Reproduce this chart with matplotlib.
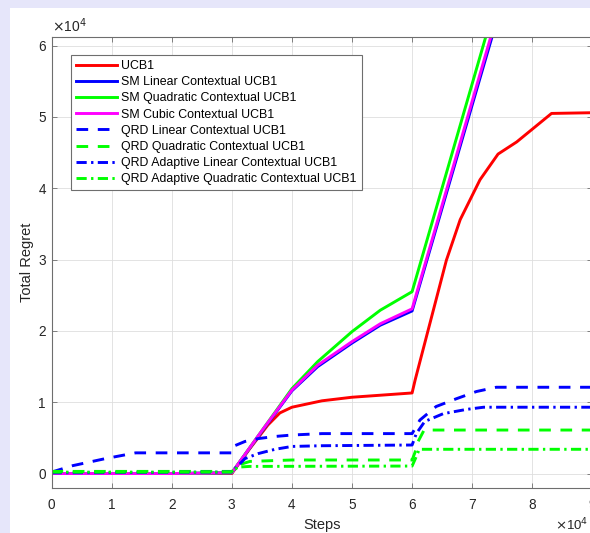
import matplotlib
matplotlib.use("Agg")
import matplotlib.pyplot as plt
from matplotlib.patches import Rectangle
from matplotlib.ticker import FuncFormatter, MultipleLocator

plt.rcParams['font.family'] = ['Liberation Sans', 'DejaVu Sans']

# ---- data (steps in units of 1e4, regret in units of 1e4) ----
ucb_x = [0, 1, 2, 3.0, 3.3, 3.6, 3.8, 4.0, 4.5, 5.0, 5.5, 6.0, 6.05, 6.57, 6.8, 7.13, 7.43, 7.74, 8.32, 9.0]
ucb_y = [0, 0, 0, 0.0, 0.35, 0.68, 0.85, 0.93, 1.02, 1.07, 1.10, 1.13, 1.31, 2.99, 3.56, 4.12, 4.48, 4.65, 5.05, 5.06]

sm_lin_x = [0, 1, 2, 3.0, 3.5, 4.0, 4.43, 5.0, 5.47, 6.0, 9.0]
sm_lin_y = [0, 0, 0, 0.01, 0.59, 1.16, 1.50, 1.83, 2.08, 2.28, 10.95]

sm_quad_x = [0, 1, 2, 3.0, 3.5, 4.0, 4.43, 5.0, 5.47, 6.0, 9.0]
sm_quad_y = [0, 0, 0, 0.01, 0.60, 1.19, 1.57, 1.99, 2.29, 2.55, 11.3]

sm_cub_x = [0, 1, 2, 3.0, 3.5, 4.0, 4.43, 5.0, 5.47, 6.0, 9.0]
sm_cub_y = [0, 0, 0, 0.01, 0.60, 1.17, 1.52, 1.85, 2.10, 2.31, 11.05]

qrd_lin_x = [0, 0.35, 0.9, 1.4, 3.0, 3.02, 3.22, 3.44, 3.72, 4.0, 4.5, 6.0, 6.13, 6.4, 6.74, 7.07, 7.4, 9.0]
qrd_lin_y = [0.02, 0.11, 0.21, 0.29, 0.29, 0.38, 0.45, 0.49, 0.52, 0.54, 0.56, 0.56, 0.75, 0.94, 1.05, 1.15, 1.21, 1.21]

qrd_quad_x = [0, 3.0, 3.15, 3.3, 4.0, 6.0, 6.05, 6.1, 6.2, 9.0]
qrd_quad_y = [0.03, 0.03, 0.13, 0.17, 0.19, 0.19, 0.30, 0.45, 0.61, 0.61]

qrd_alin_x = [0, 3.0, 3.22, 3.44, 3.72, 4.0, 4.5, 6.0, 6.07, 6.21, 6.52, 6.91, 7.19, 9.0]
qrd_alin_y = [0.01, 0.02, 0.21, 0.28, 0.34, 0.38, 0.39, 0.40, 0.56, 0.73, 0.84, 0.90, 0.93, 0.93]

qrd_aquad_x = [0, 3.0, 3.1, 3.3, 6.0, 6.05, 6.12, 9.0]
qrd_aquad_y = [0.02, 0.02, 0.09, 0.10, 0.105, 0.20, 0.34, 0.34]

labels = ["UCB1", "SM Linear Contextual UCB1", "SM Quadratic Contextual UCB1",
          "SM Cubic Contextual UCB1", "QRD Linear Contextual UCB1",
          "QRD Quadratic Contextual UCB1", "QRD Adaptive Linear Contextual UCB1",
          "QRD Adaptive Quadratic Contextual UCB1"]

SCALE = 1e4

W, H = 590, 533
fig = plt.figure(figsize=(W / 100, H / 100), dpi=100)
fig.patch.set_facecolor('#E6E6FA')
fig.patches.append(Rectangle((10 / W, 0), 1, (H - 8) / H, transform=fig.transFigure,
                             facecolor='white', edgecolor='none', zorder=-10))

ax = fig.add_axes([51.5 / W, (H - 488.3) / H, (592.4 - 51.5) / W, (488.3 - 36.7) / H])
ax.set_zorder(1)

lw = 2.1
dash = (4.0, 3.3)
dashdot = (3.5, 1.5, 0.8, 1.5)

def sc(v):
    return [e * SCALE for e in v]

ax.plot(sc(ucb_x), sc(ucb_y), color='#FF0000', lw=lw, label=labels[0])
ax.plot(sc(sm_lin_x), sc(sm_lin_y), color='#0000FF', lw=lw, label=labels[1])
ax.plot(sc(sm_quad_x), sc(sm_quad_y), color='#00FF00', lw=lw, label=labels[2])
ax.plot(sc(sm_cub_x), sc(sm_cub_y), color='#FF00FF', lw=lw, label=labels[3])
ax.plot(sc(qrd_lin_x), sc(qrd_lin_y), color='#0000FF', lw=lw, dashes=dash, label=labels[4])
ax.plot(sc(qrd_quad_x), sc(qrd_quad_y), color='#00FF00', lw=lw, dashes=dash, label=labels[5])
ax.plot(sc(qrd_alin_x), sc(qrd_alin_y), color='#0000FF', lw=lw, dashes=dashdot, label=labels[6])
ax.plot(sc(qrd_aquad_x), sc(qrd_aquad_y), color='#00FF00', lw=lw, dashes=dashdot, label=labels[7])

ax.set_xlim(0, 9e4)
ax.set_ylim(-2070, 61260)
ax.xaxis.set_major_locator(MultipleLocator(1e4))
ax.yaxis.set_major_locator(MultipleLocator(1e4))
fmt = FuncFormatter(lambda v, p: f"{v / SCALE:.0f}")
ax.xaxis.set_major_formatter(fmt)
ax.yaxis.set_major_formatter(fmt)

axcol = '#262626'
ax.grid(True, color='#DEDEDE', lw=0.6)
ax.set_axisbelow(True)
for s in ax.spines.values():
    s.set_color('#6E6E6E')
    s.set_linewidth(0.8)
ax.tick_params(direction='in', length=3.6, width=0.6, color='#6E6E6E',
               labelsize=9.8, labelcolor=axcol, top=True, right=True)
ax.tick_params(axis='x', pad=7.0)
ax.tick_params(axis='y', pad=4.0)

ax.set_xlabel("Steps", fontsize=10.5, color=axcol, labelpad=4.5)
ax.set_ylabel("Total Regret", fontsize=10.5, color=axcol, labelpad=3.2)

fig.text(52 / W, (H - 32) / H, r"$\times$10$^{4}$", fontsize=10, color=axcol,
         ha='left', va='baseline')
fig.text(555 / W, (H - 530) / H, r"$\times$10$^{4}$", fontsize=9.5, color=axcol,
         ha='left', va='baseline')

leg = ax.legend(loc='upper left', bbox_to_anchor=((71 - 51.5) / (592.4 - 51.5), (488.3 - 55) / (488.3 - 36.7)),
                borderaxespad=0, fontsize=8.9, handlelength=3.35, handletextpad=0.3,
                labelspacing=0.34, borderpad=0.4, fancybox=False, framealpha=1,
                edgecolor='#6E6E6E')
leg.get_frame().set_linewidth(0.8)
for t in leg.get_texts():
    t.set_color('#000000')

fig.savefig("out.png", dpi=100, facecolor=fig.get_facecolor())
